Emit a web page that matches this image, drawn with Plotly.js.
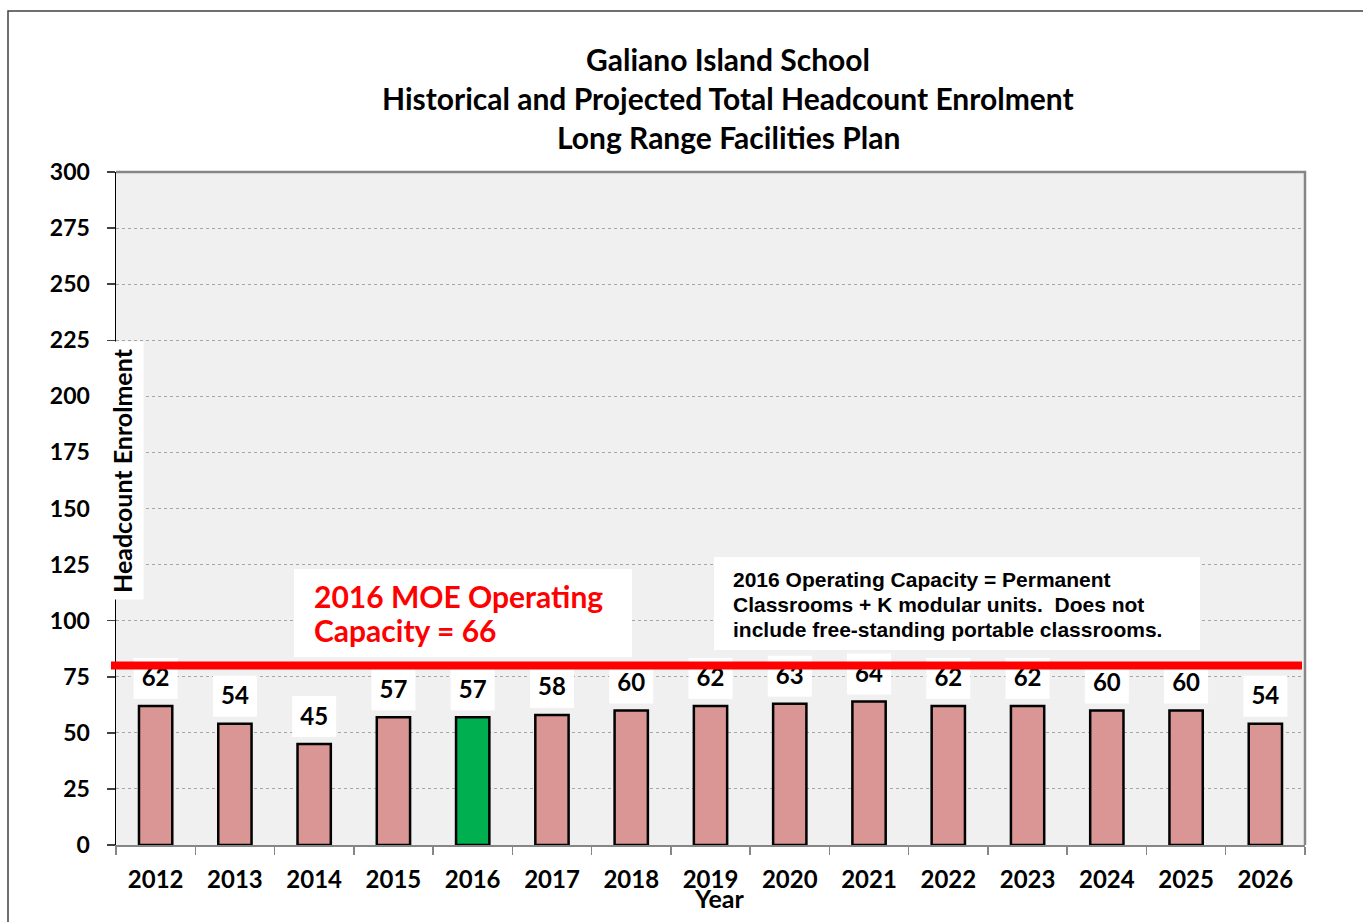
<!DOCTYPE html>
<html>
<head>
<meta charset="utf-8">
<script src="https://cdn.plot.ly/plotly-3.0.1.min.js"></script>
<style>html,body{margin:0;padding:0;background:#fff;}#chart{width:1363px;height:922px;}</style>
</head>
<body>
<div id="chart"></div>
<script>
// ---- data ----
const years = ['2012','2013','2014','2015','2016','2017','2018','2019','2020','2021','2022','2023','2024','2025','2026'];
const enrolment = [62, 54, 45, 57, 57, 58, 60, 62, 63, 64, 62, 62, 60, 60, 54];
const highlightYear = '2016';
const capacityLineValue = 80;
const titleLines = ['Galiano Island School', 'Historical and Projected Total Headcount Enrolment', 'Long Range Facilities Plan'];
const capacityLines = ['2016 MOE Operating', 'Capacity = 66'];
const noteLines = ['2016 Operating Capacity = Permanent', 'Classrooms + K modular units.  Does not', 'include free-standing portable classrooms.'];
const yTitle = 'Headcount Enrolment';
const xTitle = 'Year';

// ---- geometry helpers (pixel -> paper) ----
const W = 1363, H = 922;
const M = {l: 116, r: 58, t: 172, b: 77};
const PW = W - M.l - M.r, PH = H - M.t - M.b;
const px = v => (v - M.l) / PW;
const py = v => (H - M.b - v) / PH;

const FONT = 'Lato, Open Sans, sans-serif';
const barColor = '#D99694';
const hiColor = '#00B050';

const bars = {
  type: 'bar',
  x: years,
  y: enrolment,
  width: 0.42,
  marker: {
    color: years.map(y => y === highlightYear ? hiColor : barColor),
    line: {color: '#000000', width: 2.5}
  },
  hoverinfo: 'x+y',
  showlegend: false
};

const labels = {
  type: 'scatter',
  mode: 'markers+text',
  x: years,
  y: enrolment,
  text: enrolment.map(String),
  textposition: 'top center',
  textfont: {family: FONT, size: 24, color: '#000000', weight: 700},
  marker: {size: 20, opacity: 0},
  cliponaxis: false,
  hoverinfo: 'skip',
  showlegend: false
};

const labelBoxes = years.map((yr, i) => ({
  type: 'rect', layer: 'between',
  xref: 'x', yref: 'y',
  xsizemode: 'pixel', xanchor: i, x0: -22, x1: 22,
  ysizemode: 'pixel', yanchor: enrolment[i], y0: 7, y1: 48,
  fillcolor: '#FFFFFF', line: {width: 0}
}));

const shapes = [
  ...labelBoxes,
  // capacity line
  {type: 'line', layer: 'above', xref: 'paper', yref: 'y',
   x0: px(111), x1: px(1302), y0: capacityLineValue, y1: capacityLineValue,
   line: {color: '#FF0000', width: 8}},
  // plot area top/right border
  {type: 'path', layer: 'above', xref: 'paper', yref: 'paper',
   path: 'M 0,1 L 1,1 L 1,0', line: {color: '#868686', width: 2.5}},
  // MOE label box
  {type: 'rect', layer: 'above', xref: 'paper', yref: 'paper',
   x0: px(294), x1: px(632), y0: py(657), y1: py(569),
   fillcolor: '#FFFFFF', line: {width: 0}},
  // note box
  {type: 'rect', layer: 'above', xref: 'paper', yref: 'paper',
   x0: px(714), x1: px(1200), y0: py(650), y1: py(557),
   fillcolor: '#FFFFFF', line: {width: 0}},
  // outer frame
  {type: 'path', layer: 'above', xref: 'paper', yref: 'paper',
   path: `M ${px(8)},${py(930)} L ${px(8)},${py(11)} L ${px(1370)},${py(11)}`,
   line: {color: '#404040', width: 1.5}}
];

const titleY = [59, 98, 137];
const capY = [596, 630];
const noteY = [579, 604, 629];
const annotations = [
  ...titleLines.map((t, i) => ({
    text: t, xref: 'paper', yref: 'paper', x: px(728), y: py(titleY[i]),
    xanchor: 'center', yanchor: 'middle', showarrow: false,
    font: {family: FONT, size: 30, color: '#000000', weight: 700}
  })),
  ...capacityLines.map((t, i) => ({
    text: t, xref: 'paper', yref: 'paper', x: px(312), y: py(capY[i]),
    xanchor: 'left', yanchor: 'middle', align: 'left', showarrow: false,
    font: {family: FONT, size: 30, color: '#FF0000', weight: 700}
  })),
  ...noteLines.map((t, i) => ({
    text: t, xref: 'paper', yref: 'paper', x: px(731), y: py(noteY[i]),
    xanchor: 'left', yanchor: 'middle', align: 'left', showarrow: false,
    font: {family: 'Liberation Sans, Arial, sans-serif', size: 21, color: '#000000', weight: 700}
  })),
  {text: yTitle, xref: 'paper', yref: 'paper', x: px(122), y: py(471),
   xanchor: 'center', yanchor: 'middle', textangle: -90, showarrow: false,
   bgcolor: '#FFFFFF', borderpad: 6,
   font: {family: FONT, size: 25, color: '#000000', weight: 700}},
  {text: xTitle, xref: 'paper', yref: 'paper', x: px(719), y: py(898),
   xanchor: 'center', yanchor: 'middle', showarrow: false,
   font: {family: FONT, size: 25, color: '#000000', weight: 700}}
];

const layout = {
  width: W, height: H,
  margin: M,
  paper_bgcolor: '#FFFFFF',
  plot_bgcolor: '#F0F0F0',
  showlegend: false,
  xaxis: {
    type: 'category',
    categoryorder: 'array', categoryarray: years,
    range: [-0.5, years.length - 0.5], autorange: false,
    showline: true, linecolor: '#868686', linewidth: 2,
    ticks: 'outside', tickson: 'boundaries', ticklen: 8, tickcolor: '#868686', tickwidth: 1.5,
    ticklabelstandoff: 12,
    tickfont: {family: FONT, size: 24, color: '#000000', weight: 700},
    showgrid: false, zeroline: false, fixedrange: true
  },
  yaxis: {
    range: [0, 300], autorange: false, dtick: 25, tick0: 0,
    showline: true, linecolor: '#000000', linewidth: 1.5,
    ticks: 'outside', ticklen: 8, tickcolor: '#404040', tickwidth: 1.5,
    ticklabelstandoff: 12,
    tickfont: {family: FONT, size: 23, color: '#000000', weight: 700},
    showgrid: true, gridcolor: '#A6A6A6', gridwidth: 1, griddash: 'dot',
    zeroline: false, fixedrange: true
  },
  shapes: shapes,
  annotations: annotations
};

Plotly.newPlot('chart', [bars, labels], layout, {displayModeBar: false, staticPlot: true});
</script>
</body>
</html>
